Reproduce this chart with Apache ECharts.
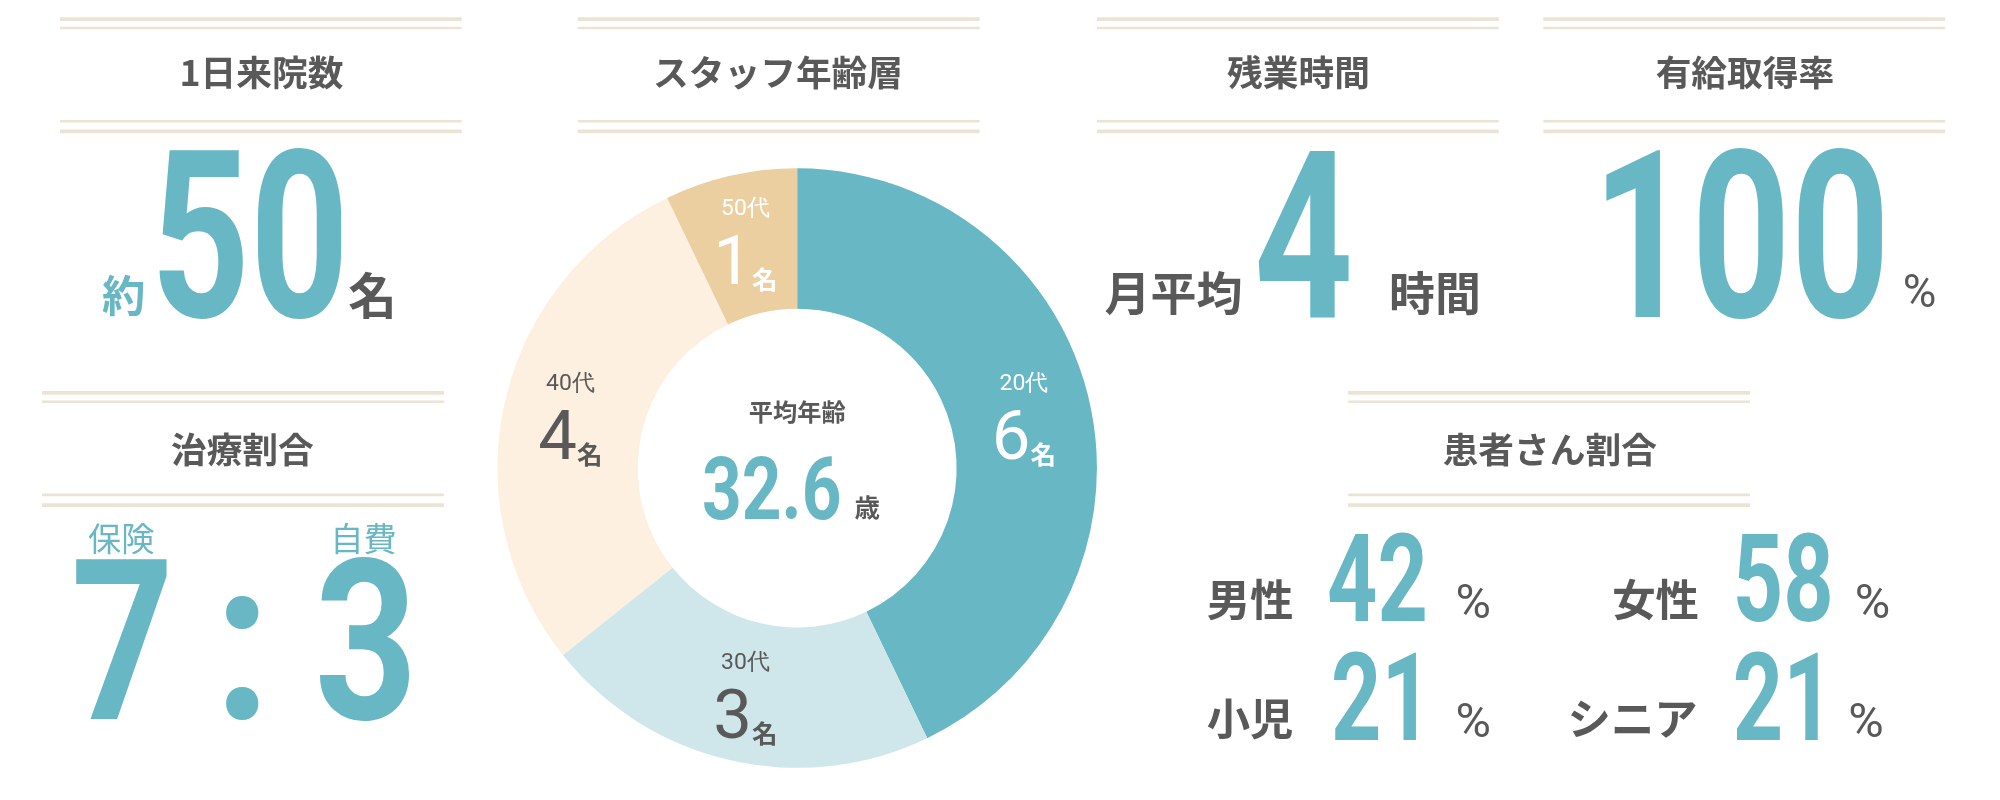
<!DOCTYPE html>
<html><head><meta charset="utf-8">
<script src="https://cdn.jsdelivr.net/npm/echarts@6/dist/echarts.min.js"></script>
<style>html,body{margin:0;background:#fff}#c{width:2000px;height:800px}</style>
</head><body><div id="c"></div>
<script>
const ageCategories = ['20代','30代','40代','50代'];
const ageCounts = [6,3,4,1];
const averageAge = '32.6';
const dailyPatients = '50';
const overtimeHours = '4';
const paidLeaveRate = '100';
const insuranceRatio = ['7','3'];
const patientLabels = ['男性','女性','小児','シニア'];
const patientPercents = ['42','58','21','21'];

const K = 2000/1568;
const TEAL = '#67b7c4', GREY = '#595959', LINE = '#ebe3d4';
const JP = '"Noto Sans CJK JP", "Noto Sans", sans-serif';
const NUM = 'Roboto, "Noto Sans", sans-serif';
const g = [];
function t(x,y,text,size,color,o){o=o||{};
  g.push({type:'text',x:x*K,y:y*K,scaleX:o.sx||1,
    style:{text:text,fontSize:size*K,fontFamily:o.f||JP,fontWeight:o.w||'bold',fill:color,
      textAlign:o.a||'center',textVerticalAlign:'middle'}});}
function big(x,y,text,cap,o){o=o||{};t(x,y,text,cap/0.71,o.c||TEAL,{f:NUM,w:'bold',sx:o.sx||0.74,a:'center'});}
function box(x1,x2,y){
  [[y,3],[y+7,2],[y+80,2],[y+88,3]].forEach(([yy,w])=>g.push({type:'line',
    shape:{x1:x1*K,y1:yy*K,x2:x2*K,y2:yy*K},style:{stroke:LINE,lineWidth:w*K}}));
}
box(47,362,15); t(205,57,'1日来院数',28,GREY);
box(453,768,15); t(610,57,'スタッフ年齢層',28,GREY);
box(860,1175,15); t(1018,57,'残業時間',28,GREY);
box(1210,1525,15); t(1368,57,'有給取得率',28,GREY);
box(33,348,308); t(190,352,'治療割合',28,GREY);
box(1057,1372,308); t(1215,352,'患者さん割合',28,GREY);

t(97,232,'約',34,TEAL); big(196,203,dailyPatients,130); t(292,232,'名',38,GREY);
t(920,229,'月平均',36,GREY); big(1022,203,overtimeHours,130); t(1125,229,'時間',36,GREY);
big(1365,203,paidLeaveRate,130); t(1505,232,'%',36,GREY,{w:'normal',f:NUM});

t(95,422,'保険',26,TEAL,{w:'normal'}); t(285,422,'自費',26,TEAL,{w:'normal'});
big(96,520,insuranceRatio[0],125,{sx:0.8}); big(190,520,':',125,{sx:0.9}); big(287,520,insuranceRatio[1],125,{sx:0.8});

const pPos=[[980,455,1080,1155],[1298,455,1398,1468],[980,548,1083,1155],[1280,548,1398,1463]];
patientLabels.forEach((l,i)=>{const p=pPos[i];
  t(p[0],p[1]+15,l,34,GREY); big(p[2],p[1]+8,patientPercents[i],68,{sx:0.72}); t(p[3],p[1]+20,'%',38,GREY,{w:'normal',f:NUM});});

t(625,323,'平均年齢',19,GREY);
g.push({type:'text',x:605*K,y:390*K,scaleX:0.8,style:{text:averageAge,fontSize:68*K,fontFamily:NUM,fontWeight:'bold',fill:TEAL,textAlign:'center',textVerticalAlign:'middle'}});
t(680,398,'歳',20,GREY);

const cols=[TEAL,'#cfe7ea','#fdf0e0','#ebcfa1'];
const lcol=['#fff',GREY,GREY,'#fff'];
const chart=echarts.init(document.getElementById('c'));
chart.setOption({animation:false,
  series:[{type:'pie',center:[625*K,367*K],radius:[125*K,235*K],startAngle:90,silent:true,
    data:ageCategories.map((c,i)=>({name:c,value:ageCounts[i],itemStyle:{color:cols[i]},
      label:{color:lcol[i]}})),
    label:{position:'inside',lineHeight:50*K,
      formatter:p=>'{a|'+p.name+'}\n{b|'+p.value+'}{c|名}',
      rich:{a:{fontSize:18*K,fontFamily:NUM,lineHeight:40*K},b:{fontSize:54*K,fontFamily:NUM},c:{fontSize:20*K,fontFamily:JP,fontWeight:'bold',padding:[20*K,0,0,0]}}}}],
  graphic:g});
</script></body></html>
